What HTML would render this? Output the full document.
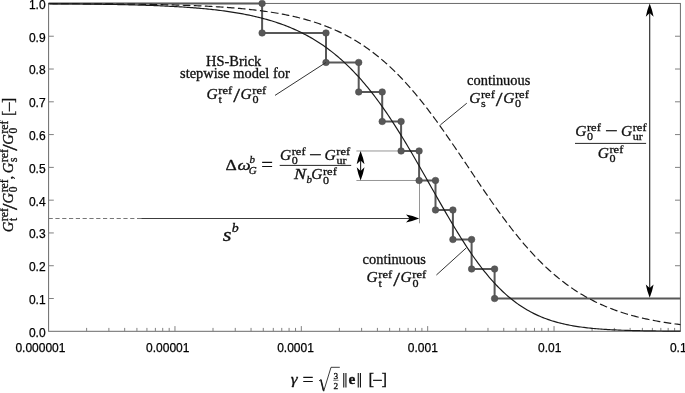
<!DOCTYPE html>
<html><head><meta charset="utf-8"><title>HS-Brick stiffness degradation</title>
<style>html,body{margin:0;padding:0;background:#fff}svg{display:block}.sf{font-family:"Liberation Serif",serif}.ss{font-family:"Liberation Sans",sans-serif}</style></head><body>
<svg width="685" height="393" viewBox="0 0 685 393">
<rect width="685" height="393" fill="#fff"/>
<g stroke="#6a6a6a" stroke-width="1" fill="none">
<rect x="48.6" y="3.45" width="631.80" height="327.85"/>
<path d="M48.6 298.51h5.2M680.4 298.51h-5.4M48.6 265.73h5.2M680.4 265.73h-5.4M48.6 232.94h5.2M680.4 232.94h-5.4M48.6 200.16h5.2M680.4 200.16h-5.4M48.6 167.38h5.2M680.4 167.38h-5.4M48.6 134.59h5.2M680.4 134.59h-5.4M48.6 101.81h5.2M680.4 101.81h-5.4M48.6 69.02h5.2M680.4 69.02h-5.4M48.6 36.23h5.2M680.4 36.23h-5.4M86.64 331.3v-3.4M108.89 331.3v-3.4M124.68 331.3v-3.4M136.92 331.3v-3.4M146.93 331.3v-3.4M155.39 331.3v-3.4M162.71 331.3v-3.4M169.18 331.3v-3.4M174.96 331.3v-5.2M213.00 331.3v-3.4M235.25 331.3v-3.4M251.04 331.3v-3.4M263.28 331.3v-3.4M273.29 331.3v-3.4M281.75 331.3v-3.4M289.07 331.3v-3.4M295.54 331.3v-3.4M301.32 331.3v-5.2M339.36 331.3v-3.4M361.61 331.3v-3.4M377.40 331.3v-3.4M389.64 331.3v-3.4M399.65 331.3v-3.4M408.11 331.3v-3.4M415.43 331.3v-3.4M421.90 331.3v-3.4M427.68 331.3v-5.2M465.72 331.3v-3.4M487.97 331.3v-3.4M503.76 331.3v-3.4M516.00 331.3v-3.4M526.01 331.3v-3.4M534.47 331.3v-3.4M541.79 331.3v-3.4M548.26 331.3v-3.4M554.04 331.3v-5.2M592.08 331.3v-3.4M614.33 331.3v-3.4M630.12 331.3v-3.4M642.36 331.3v-3.4M652.37 331.3v-3.4M660.83 331.3v-3.4M668.15 331.3v-3.4M674.62 331.3v-3.4" stroke="#808080"/>
</g>
<g class="ss" font-size="12" fill="#000" stroke="#000" stroke-width="0.25">
<text x="45.6" y="336.70" text-anchor="end">0.0</text>
<text x="45.6" y="303.91" text-anchor="end">0.1</text>
<text x="45.6" y="271.13" text-anchor="end">0.2</text>
<text x="45.6" y="238.34" text-anchor="end">0.3</text>
<text x="45.6" y="205.56" text-anchor="end">0.4</text>
<text x="45.6" y="172.78" text-anchor="end">0.5</text>
<text x="45.6" y="139.99" text-anchor="end">0.6</text>
<text x="45.6" y="107.21" text-anchor="end">0.7</text>
<text x="45.6" y="74.42" text-anchor="end">0.8</text>
<text x="45.6" y="41.63" text-anchor="end">0.9</text>
<text x="45.6" y="8.85" text-anchor="end">1.0</text>
<text x="15.4" y="352.3">0.000001</text>
<text x="146.1" y="352.3">0.00001</text>
<text x="277.2" y="352.3">0.0001</text>
<text x="407.8" y="352.3">0.001</text>
<text x="538.0" y="352.3">0.01</text>
<text x="669.9" y="352.3">0.1</text>
</g>
<g stroke="#8a8a8a" stroke-width="0.9" fill="none">
<path d="M356.4 150.98H401.1M356.4 180.49H419.1M419.5 180.49V223.3"/>
</g>
<path d="M48.6 218.5H141.5" stroke="#777" stroke-width="1" stroke-dasharray="4.2 2.6" fill="none"/>
<path d="M141.2 218.5H412" stroke="#3c3c3c" stroke-width="1.2" fill="none"/>
<path d="M48.6 3.45H262.1V32.96H326.0V62.46H358.7V91.97H382.2V121.48H401.1V150.98H419.1V180.49H435.5V210.00H452.9V239.50H471.6V269.01H494.6V298.52H680.4" stroke="#585858" stroke-width="2" fill="none" stroke-linejoin="round"/>
<g fill="#585858">
<circle cx="262.1" cy="3.45" r="3.3" stroke="#484848" stroke-width="0.5"/>
<circle cx="262.1" cy="32.96" r="3.3" stroke="#484848" stroke-width="0.5"/>
<circle cx="326.0" cy="32.96" r="3.3" stroke="#484848" stroke-width="0.5"/>
<circle cx="326.0" cy="62.46" r="3.3" stroke="#484848" stroke-width="0.5"/>
<circle cx="358.7" cy="62.46" r="3.3" stroke="#484848" stroke-width="0.5"/>
<circle cx="358.7" cy="91.97" r="3.3" stroke="#484848" stroke-width="0.5"/>
<circle cx="382.2" cy="91.97" r="3.3" stroke="#484848" stroke-width="0.5"/>
<circle cx="382.2" cy="121.48" r="3.3" stroke="#484848" stroke-width="0.5"/>
<circle cx="401.1" cy="121.48" r="3.3" stroke="#484848" stroke-width="0.5"/>
<circle cx="401.1" cy="150.98" r="3.3" stroke="#484848" stroke-width="0.5"/>
<circle cx="419.1" cy="150.98" r="3.3" stroke="#484848" stroke-width="0.5"/>
<circle cx="419.1" cy="180.49" r="3.3" stroke="#484848" stroke-width="0.5"/>
<circle cx="435.5" cy="180.49" r="3.3" stroke="#484848" stroke-width="0.5"/>
<circle cx="435.5" cy="210.00" r="3.3" stroke="#484848" stroke-width="0.5"/>
<circle cx="452.9" cy="210.00" r="3.3" stroke="#484848" stroke-width="0.5"/>
<circle cx="452.9" cy="239.50" r="3.3" stroke="#484848" stroke-width="0.5"/>
<circle cx="471.6" cy="239.50" r="3.3" stroke="#484848" stroke-width="0.5"/>
<circle cx="471.6" cy="269.01" r="3.3" stroke="#484848" stroke-width="0.5"/>
<circle cx="494.6" cy="269.01" r="3.3" stroke="#484848" stroke-width="0.5"/>
<circle cx="494.6" cy="298.52" r="3.3" stroke="#484848" stroke-width="0.5"/>
</g>
<path d="M48.60 3.61L50.18 3.61L51.76 3.62L53.34 3.62L54.92 3.63L56.50 3.63L58.08 3.64L59.66 3.64L61.24 3.65L62.82 3.65L64.39 3.66L65.97 3.66L67.55 3.67L69.13 3.68L70.71 3.68L72.29 3.69L73.87 3.70L75.45 3.70L77.03 3.71L78.61 3.72L80.19 3.73L81.77 3.74L83.35 3.74L84.93 3.75L86.51 3.76L88.09 3.77L89.67 3.78L91.25 3.79L92.83 3.80L94.41 3.81L95.98 3.82L97.56 3.83L99.14 3.84L100.72 3.85L102.30 3.86L103.88 3.88L105.46 3.89L107.04 3.90L108.62 3.92L110.20 3.93L111.78 3.94L113.36 3.96L114.94 3.97L116.52 3.99L118.10 4.00L119.68 4.02L121.26 4.04L122.84 4.05L124.42 4.07L126.00 4.09L127.57 4.11L129.15 4.13L130.73 4.15L132.31 4.17L133.89 4.19L135.47 4.21L137.05 4.23L138.63 4.25L140.21 4.28L141.79 4.30L143.37 4.33L144.95 4.35L146.53 4.38L148.11 4.40L149.69 4.43L151.27 4.46L152.85 4.49L154.43 4.52L156.01 4.55L157.59 4.58L159.16 4.62L160.74 4.65L162.32 4.69L163.90 4.72L165.48 4.76L167.06 4.80L168.64 4.84L170.22 4.88L171.80 4.92L173.38 4.96L174.96 5.00L176.54 5.05L178.12 5.10L179.70 5.14L181.28 5.19L182.86 5.24L184.44 5.30L186.02 5.35L187.60 5.40L189.18 5.46L190.75 5.52L192.33 5.58L193.91 5.64L195.49 5.70L197.07 5.77L198.65 5.84L200.23 5.91L201.81 5.98L203.39 6.05L204.97 6.13L206.55 6.20L208.13 6.28L209.71 6.36L211.29 6.45L212.87 6.54L214.45 6.62L216.03 6.72L217.61 6.81L219.19 6.91L220.77 7.01L222.34 7.11L223.92 7.22L225.50 7.33L227.08 7.44L228.66 7.55L230.24 7.67L231.82 7.79L233.40 7.92L234.98 8.05L236.56 8.18L238.14 8.31L239.72 8.45L241.30 8.60L242.88 8.75L244.46 8.90L246.04 9.05L247.62 9.21L249.20 9.38L250.78 9.55L252.36 9.72L253.94 9.90L255.51 10.09L257.09 10.28L258.67 10.47L260.25 10.67L261.83 10.88L263.41 11.09L264.99 11.31L266.57 11.53L268.15 11.76L269.73 12.00L271.31 12.24L272.89 12.49L274.47 12.75L276.05 13.01L277.63 13.28L279.21 13.56L280.79 13.85L282.37 14.14L283.95 14.44L285.53 14.75L287.10 15.07L288.68 15.40L290.26 15.73L291.84 16.08L293.42 16.43L295.00 16.80L296.58 17.17L298.16 17.55L299.74 17.95L301.32 18.35L302.90 18.77L304.48 19.19L306.06 19.63L307.64 20.08L309.22 20.54L310.80 21.01L312.38 21.50L313.96 21.99L315.54 22.50L317.12 23.03L318.69 23.56L320.27 24.11L321.85 24.68L323.43 25.26L325.01 25.85L326.59 26.46L328.17 27.08L329.75 27.72L331.33 28.37L332.91 29.04L334.49 29.73L336.07 30.44L337.65 31.16L339.23 31.90L340.81 32.65L342.39 33.43L343.97 34.22L345.55 35.03L347.13 35.86L348.70 36.72L350.28 37.59L351.86 38.48L353.44 39.39L355.02 40.32L356.60 41.27L358.18 42.24L359.76 43.24L361.34 44.26L362.92 45.30L364.50 46.36L366.08 47.44L367.66 48.55L369.24 49.68L370.82 50.84L372.40 52.02L373.98 53.22L375.56 54.45L377.14 55.70L378.72 56.97L380.30 58.28L381.87 59.60L383.45 60.95L385.03 62.33L386.61 63.74L388.19 65.16L389.77 66.62L391.35 68.10L392.93 69.61L394.51 71.14L396.09 72.70L397.67 74.28L399.25 75.90L400.83 77.53L402.41 79.20L403.99 80.89L405.57 82.60L407.15 84.34L408.73 86.11L410.31 87.90L411.89 89.72L413.46 91.56L415.04 93.43L416.62 95.32L418.20 97.23L419.78 99.17L421.36 101.13L422.94 103.12L424.52 105.13L426.10 107.16L427.68 109.21L429.26 111.28L430.84 113.37L432.42 115.49L434.00 117.62L435.58 119.77L437.16 121.94L438.74 124.13L440.32 126.33L441.90 128.55L443.48 130.78L445.05 133.03L446.63 135.29L448.21 137.57L449.79 139.85L451.37 142.15L452.95 144.46L454.53 146.78L456.11 149.10L457.69 151.44L459.27 153.78L460.85 156.12L462.43 158.47L464.01 160.83L465.59 163.18L467.17 165.54L468.75 167.90L470.33 170.26L471.91 172.62L473.49 174.97L475.06 177.32L476.64 179.67L478.22 182.02L479.80 184.35L481.38 186.68L482.96 189.00L484.54 191.32L486.12 193.62L487.70 195.91L489.28 198.20L490.86 200.47L492.44 202.72L494.02 204.96L495.60 207.19L497.18 209.40L498.76 211.60L500.34 213.78L501.92 215.94L503.50 218.08L505.08 220.21L506.66 222.31L508.23 224.39L509.81 226.46L511.39 228.50L512.97 230.52L514.55 232.52L516.13 234.49L517.71 236.44L519.29 238.37L520.87 240.28L522.45 242.16L524.03 244.01L525.61 245.84L527.19 247.65L528.77 249.43L530.35 251.19L531.93 252.92L533.51 254.62L535.09 256.30L536.67 257.95L538.25 259.57L539.82 261.17L541.40 262.75L542.98 264.30L544.56 265.82L546.14 267.31L547.72 268.78L549.30 270.22L550.88 271.64L552.46 273.03L554.04 274.40L555.62 275.74L557.20 277.06L558.78 278.35L560.36 279.61L561.94 280.85L563.52 282.07L565.10 283.26L566.68 284.43L568.26 285.57L569.83 286.70L571.41 287.79L572.99 288.87L574.57 289.92L576.15 290.95L577.73 291.96L579.31 292.94L580.89 293.91L582.47 294.85L584.05 295.77L585.63 296.67L587.21 297.55L588.79 298.42L590.37 299.26L591.95 300.08L593.53 300.88L595.11 301.67L596.69 302.44L598.27 303.18L599.85 303.91L601.42 304.63L603.00 305.33L604.58 306.01L606.16 306.67L607.74 307.32L609.32 307.95L610.90 308.57L612.48 309.17L614.06 309.75L615.64 310.33L617.22 310.88L618.80 311.43L620.38 311.96L621.96 312.48L623.54 312.98L625.12 313.47L626.70 313.95L628.28 314.42L629.86 314.87L631.44 315.32L633.01 315.75L634.59 316.17L636.17 316.58L637.75 316.98L639.33 317.37L640.91 317.75L642.49 318.12L644.07 318.47L645.65 318.82L647.23 319.17L648.81 319.50L650.39 319.82L651.97 320.14L653.55 320.44L655.13 320.74L656.71 321.03L658.29 321.31L659.87 321.59L661.45 321.86L663.03 322.12L664.60 322.37L666.18 322.62L667.76 322.86L669.34 323.09L670.92 323.32L672.50 323.54L674.08 323.75L675.66 323.96L677.24 324.17L678.82 324.36L680.40 324.56" stroke="#1a1a1a" stroke-width="1.18" stroke-dasharray="7.7 3.36" stroke-dashoffset="9.66" fill="none"/>
<path d="M48.60 3.76L50.18 3.77L51.76 3.78L53.34 3.79L54.92 3.80L56.50 3.81L58.08 3.82L59.66 3.83L61.24 3.84L62.82 3.85L64.39 3.87L65.97 3.88L67.55 3.89L69.13 3.90L70.71 3.92L72.29 3.93L73.87 3.94L75.45 3.96L77.03 3.97L78.61 3.99L80.19 4.00L81.77 4.02L83.35 4.04L84.93 4.05L86.51 4.07L88.09 4.09L89.67 4.11L91.25 4.13L92.83 4.15L94.41 4.17L95.98 4.19L97.56 4.21L99.14 4.23L100.72 4.26L102.30 4.28L103.88 4.30L105.46 4.33L107.04 4.35L108.62 4.38L110.20 4.41L111.78 4.44L113.36 4.46L114.94 4.49L116.52 4.52L118.10 4.56L119.68 4.59L121.26 4.62L122.84 4.65L124.42 4.69L126.00 4.73L127.57 4.76L129.15 4.80L130.73 4.84L132.31 4.88L133.89 4.92L135.47 4.97L137.05 5.01L138.63 5.05L140.21 5.10L141.79 5.15L143.37 5.20L144.95 5.25L146.53 5.30L148.11 5.36L149.69 5.41L151.27 5.47L152.85 5.53L154.43 5.59L156.01 5.65L157.59 5.71L159.16 5.78L160.74 5.85L162.32 5.92L163.90 5.99L165.48 6.06L167.06 6.14L168.64 6.22L170.22 6.30L171.80 6.38L173.38 6.46L174.96 6.55L176.54 6.64L178.12 6.73L179.70 6.83L181.28 6.93L182.86 7.03L184.44 7.13L186.02 7.24L187.60 7.35L189.18 7.46L190.75 7.57L192.33 7.69L193.91 7.82L195.49 7.94L197.07 8.07L198.65 8.21L200.23 8.34L201.81 8.48L203.39 8.63L204.97 8.78L206.55 8.93L208.13 9.09L209.71 9.25L211.29 9.42L212.87 9.59L214.45 9.77L216.03 9.95L217.61 10.14L219.19 10.33L220.77 10.53L222.34 10.73L223.92 10.94L225.50 11.15L227.08 11.38L228.66 11.60L230.24 11.84L231.82 12.08L233.40 12.32L234.98 12.58L236.56 12.84L238.14 13.11L239.72 13.38L241.30 13.66L242.88 13.95L244.46 14.25L246.04 14.56L247.62 14.88L249.20 15.20L250.78 15.54L252.36 15.88L253.94 16.23L255.51 16.59L257.09 16.96L258.67 17.35L260.25 17.74L261.83 18.14L263.41 18.56L264.99 18.98L266.57 19.42L268.15 19.87L269.73 20.33L271.31 20.80L272.89 21.29L274.47 21.79L276.05 22.30L277.63 22.82L279.21 23.36L280.79 23.92L282.37 24.49L283.95 25.07L285.53 25.67L287.10 26.28L288.68 26.91L290.26 27.56L291.84 28.22L293.42 28.90L295.00 29.60L296.58 30.32L298.16 31.05L299.74 31.81L301.32 32.58L302.90 33.37L304.48 34.18L306.06 35.01L307.64 35.86L309.22 36.74L310.80 37.63L312.38 38.55L313.96 39.49L315.54 40.45L317.12 41.43L318.69 42.44L320.27 43.47L321.85 44.53L323.43 45.61L325.01 46.72L326.59 47.85L328.17 49.01L329.75 50.19L331.33 51.40L332.91 52.64L334.49 53.91L336.07 55.20L337.65 56.52L339.23 57.88L340.81 59.26L342.39 60.67L343.97 62.11L345.55 63.57L347.13 65.07L348.70 66.61L350.28 68.17L351.86 69.76L353.44 71.38L355.02 73.04L356.60 74.73L358.18 76.45L359.76 78.20L361.34 79.98L362.92 81.80L364.50 83.65L366.08 85.53L367.66 87.45L369.24 89.39L370.82 91.37L372.40 93.39L373.98 95.43L375.56 97.51L377.14 99.62L378.72 101.76L380.30 103.93L381.87 106.14L383.45 108.37L385.03 110.64L386.61 112.93L388.19 115.26L389.77 117.62L391.35 120.00L392.93 122.41L394.51 124.85L396.09 127.32L397.67 129.81L399.25 132.33L400.83 134.88L402.41 137.44L403.99 140.03L405.57 142.64L407.15 145.27L408.73 147.93L410.31 150.60L411.89 153.29L413.46 155.99L415.04 158.71L416.62 161.44L418.20 164.19L419.78 166.95L421.36 169.71L422.94 172.49L424.52 175.27L426.10 178.06L427.68 180.85L429.26 183.65L430.84 186.44L432.42 189.24L434.00 192.03L435.58 194.82L437.16 197.60L438.74 200.38L440.32 203.15L441.90 205.91L443.48 208.66L445.05 211.39L446.63 214.12L448.21 216.82L449.79 219.51L451.37 222.17L452.95 224.82L454.53 227.45L456.11 230.05L457.69 232.62L459.27 235.18L460.85 237.70L462.43 240.19L464.01 242.66L465.59 245.09L467.17 247.49L468.75 249.86L470.33 252.20L471.91 254.49L473.49 256.76L475.06 258.98L476.64 261.17L478.22 263.32L479.80 265.44L481.38 267.51L482.96 269.54L484.54 271.53L486.12 273.48L487.70 275.39L489.28 277.26L490.86 279.09L492.44 280.87L494.02 282.62L495.60 284.32L497.18 285.98L498.76 287.60L500.34 289.17L501.92 290.71L503.50 292.20L505.08 293.66L506.66 295.07L508.23 296.44L509.81 297.77L511.39 299.07L512.97 300.32L514.55 301.54L516.13 302.71L517.71 303.86L519.29 304.96L520.87 306.03L522.45 307.06L524.03 308.06L525.61 309.03L527.19 309.96L528.77 310.86L530.35 311.72L531.93 312.56L533.51 313.37L535.09 314.14L536.67 314.89L538.25 315.61L539.82 316.30L541.40 316.97L542.98 317.61L544.56 318.22L546.14 318.81L547.72 319.38L549.30 319.92L550.88 320.44L552.46 320.94L554.04 321.42L555.62 321.88L557.20 322.33L558.78 322.75L560.36 323.15L561.94 323.54L563.52 323.91L565.10 324.26L566.68 324.60L568.26 324.92L569.83 325.23L571.41 325.53L572.99 325.81L574.57 326.08L576.15 326.33L577.73 326.58L579.31 326.81L580.89 327.03L582.47 327.25L584.05 327.45L585.63 327.64L587.21 327.83L588.79 328.00L590.37 328.17L591.95 328.33L593.53 328.48L595.11 328.62L596.69 328.76L598.27 328.89L599.85 329.01L601.42 329.13L603.00 329.24L604.58 329.35L606.16 329.45L607.74 329.55L609.32 329.64L610.90 329.72L612.48 329.81L614.06 329.88L615.64 329.96L617.22 330.03L618.80 330.10L620.38 330.16L621.96 330.22L623.54 330.28L625.12 330.33L626.70 330.38L628.28 330.43L629.86 330.48L631.44 330.52L633.01 330.56L634.59 330.60L636.17 330.64L637.75 330.67L639.33 330.71L640.91 330.74L642.49 330.77L644.07 330.80L645.65 330.83L647.23 330.85L648.81 330.88L650.39 330.90L651.97 330.92L653.55 330.94L655.13 330.96L656.71 330.98L658.29 331.00L659.87 331.01L661.45 331.03L663.03 331.04L664.60 331.06L666.18 331.07L667.76 331.08L669.34 331.09L670.92 331.11L672.50 331.12L674.08 331.13L675.66 331.14L677.24 331.14L678.82 331.15L680.40 331.16" stroke="#1a1a1a" stroke-width="1.18" fill="none"/>
<g stroke="#333" stroke-width="1" fill="none">
<path d="M275 95.4L326.0 62.46M466.8 103.2L440.4 124.9M436.4 275L466.6 247.6"/>
</g>
<g stroke="#2a2a2a" stroke-width="1.15" fill="none">
<path d="M649.7 9.45V292.52M360.6 156.98V174.49"/>
</g>
<g fill="#000">
<path d="M649.70 3.45Q652.35 10.05 653.60 16.65L649.70 13.05L645.80 16.65Q647.05 10.05 649.70 3.45ZM649.70 297.72Q647.05 291.12 645.80 284.52L649.70 288.12L653.60 284.52Q652.35 291.12 649.70 297.72ZM360.60 150.98Q363.25 157.58 364.50 164.18L360.60 160.58L356.70 164.18Q357.95 157.58 360.60 150.98ZM360.60 180.49Q357.95 173.89 356.70 167.29L360.60 170.89L364.50 167.29Q363.25 173.89 360.60 180.49ZM419.20 218.50Q412.60 221.15 406.00 222.40L409.60 218.50L406.00 214.60Q412.60 215.85 419.20 218.50Z"/>
</g>
<g class="sf" fill="#111" stroke="#111" stroke-width="0.3">
<text transform="translate(233.70 65.60) scale(1.06 1.0)" font-size="13.6" text-anchor="middle">HS-Brick</text>
<text transform="translate(234.90 78.00) scale(1.06 1.0)" font-size="13.6" text-anchor="middle">stepwise model for</text>
<text transform="translate(206.60 99.00) scale(1.06 1.0)" font-size="14.6" font-style="italic">G</text><text transform="translate(218.30 94.20) scale(1.14 1.0)" font-size="11">ref</text><text transform="translate(218.40 103.10) scale(1.1 1.0)" font-size="11">t</text><text transform="translate(233.20 102.40) scale(1.25 1.0)" font-size="19.5">/</text><text transform="translate(240.60 99.00) scale(1.06 1.0)" font-size="14.6" font-style="italic">G</text><text transform="translate(252.30 94.20) scale(1.14 1.0)" font-size="11">ref</text><text transform="translate(252.40 103.10) scale(1.1 1.0)" font-size="11">0</text>
<text transform="translate(498.70 84.50) scale(1.06 1.0)" font-size="13.6" text-anchor="middle">continuous</text>
<text transform="translate(469.20 102.80) scale(1.06 1.0)" font-size="14.6" font-style="italic">G</text><text transform="translate(480.90 98.00) scale(1.14 1.0)" font-size="11">ref</text><text transform="translate(481.00 106.90) scale(1.1 1.0)" font-size="11">s</text><text transform="translate(495.80 106.20) scale(1.25 1.0)" font-size="19.5">/</text><text transform="translate(503.20 102.80) scale(1.06 1.0)" font-size="14.6" font-style="italic">G</text><text transform="translate(514.90 98.00) scale(1.14 1.0)" font-size="11">ref</text><text transform="translate(515.00 106.90) scale(1.1 1.0)" font-size="11">0</text>
<text transform="translate(394.20 264.00) scale(1.06 1.0)" font-size="13.6" text-anchor="middle">continuous</text>
<text transform="translate(366.60 282.40) scale(1.06 1.0)" font-size="14.6" font-style="italic">G</text><text transform="translate(378.30 277.60) scale(1.14 1.0)" font-size="11">ref</text><text transform="translate(378.40 286.50) scale(1.1 1.0)" font-size="11">t</text><text transform="translate(393.20 285.80) scale(1.25 1.0)" font-size="19.5">/</text><text transform="translate(400.60 282.40) scale(1.06 1.0)" font-size="14.6" font-style="italic">G</text><text transform="translate(412.30 277.60) scale(1.14 1.0)" font-size="11">ref</text><text transform="translate(412.40 286.50) scale(1.1 1.0)" font-size="11">0</text>
<text transform="translate(222.80 240.50) scale(1.22 1.0)" font-size="18.4" font-style="italic">s</text>
<text transform="translate(231.80 231.70) scale(1.06 1.0)" font-size="13.2" font-style="italic">b</text>
<text transform="translate(225.60 169.60) scale(1.2 1.0)" font-size="14.6">Δ</text>
<text transform="translate(237.60 169.60) scale(1.28 1.0)" font-size="14.6" font-style="italic">ω</text>
<text transform="translate(249.60 163.40) scale(1.06 1.0)" font-size="10.4" font-style="italic">b</text>
<text transform="translate(248.80 173.60) scale(1.06 1.0)" font-size="10.4" font-style="italic">G</text>
<text transform="translate(261.20 170.60) scale(1.12 1.0)" font-size="18.6">=</text>
<text transform="translate(280.00 159.50) scale(1.06 1.0)" font-size="14.6" font-style="italic">G</text><text transform="translate(291.70 154.70) scale(1.14 1.0)" font-size="11">ref</text><text transform="translate(291.80 163.60) scale(1.1 1.0)" font-size="11">0</text>
<text transform="translate(309.00 160.60) scale(1.22 1.0)" font-size="18.6">−</text>
<text transform="translate(324.60 159.50) scale(1.06 1.0)" font-size="14.6" font-style="italic">G</text><text transform="translate(336.30 154.70) scale(1.14 1.0)" font-size="11">ref</text><text transform="translate(336.40 163.60) scale(1.1 1.0)" font-size="11">ur</text>
<path d="M279.7 165.4H351.2" stroke="#1a1a1a" stroke-width="0.95"/>
<text transform="translate(294.00 179.40) scale(1.25 1.0)" font-size="14.6" font-style="italic">N</text>
<text transform="translate(306.60 182.60) scale(1.06 1.0)" font-size="10.4" font-style="italic">b</text>
<text transform="translate(311.20 179.40) scale(1.06 1.0)" font-size="14.6" font-style="italic">G</text><text transform="translate(322.90 174.60) scale(1.14 1.0)" font-size="11">ref</text><text transform="translate(323.00 183.50) scale(1.1 1.0)" font-size="11">0</text>
<text transform="translate(575.20 136.10) scale(1.06 1.0)" font-size="14.6" font-style="italic">G</text><text transform="translate(586.90 131.30) scale(1.14 1.0)" font-size="11">ref</text><text transform="translate(587.00 140.20) scale(1.1 1.0)" font-size="11">0</text>
<text transform="translate(605.00 137.20) scale(1.22 1.0)" font-size="18.6">−</text>
<text transform="translate(621.00 136.10) scale(1.06 1.0)" font-size="14.6" font-style="italic">G</text><text transform="translate(632.70 131.30) scale(1.14 1.0)" font-size="11">ref</text><text transform="translate(632.80 140.20) scale(1.1 1.0)" font-size="11">ur</text>
<path d="M575 143.4H646.1" stroke="#1a1a1a" stroke-width="0.95"/>
<text transform="translate(597.70 158.10) scale(1.06 1.0)" font-size="14.6" font-style="italic">G</text><text transform="translate(609.40 153.30) scale(1.14 1.0)" font-size="11">ref</text><text transform="translate(609.50 162.20) scale(1.1 1.0)" font-size="11">0</text>
<text transform="translate(290.80 383.60) scale(1.15 1.0)" font-size="15.2" font-style="italic">γ</text>
<text transform="translate(302.60 385.80) scale(1.05 1.0)" font-size="18.6">=</text>
<path d="M319.0 380.9L320.9 379.6L323.7 391.2L331.0 367.3H339.8" stroke="#1a1a1a" stroke-width="0.85" fill="none" stroke-linejoin="miter"/>
<path d="M320.9 379.8L323.5 390.6" stroke="#1a1a1a" stroke-width="1.5" fill="none"/>
<text transform="translate(335.80 379.00) scale(1.06 1.0)" font-size="8.8" text-anchor="middle">3</text>
<path d="M333.2 380.3h5.3" stroke="#1a1a1a" stroke-width="0.6"/>
<text transform="translate(335.80 388.50) scale(1.06 1.0)" font-size="8.8" text-anchor="middle">2</text>
<text transform="translate(341.6 384.2) scale(1.02 1)" font-size="13.2" font-family="DejaVu Sans, Liberation Serif, serif" stroke="none" fill="#111">‖</text>
<text transform="translate(348.60 383.80) scale(1.06 1.0)" font-size="14.6" font-weight="bold">e</text>
<text transform="translate(356.1 384.2) scale(1.02 1)" font-size="13.2" font-family="DejaVu Sans, Liberation Serif, serif" stroke="none" fill="#111">‖</text>
<text transform="translate(368.60 384.60) scale(1.06 1.0)" font-size="15.8">[</text><text transform="translate(372.20 385.60) scale(1.06 1.0)" font-size="17.2">−</text><text transform="translate(381.40 384.60) scale(1.06 1.0)" font-size="15.8">]</text>
<g transform="translate(12.9 231.8) rotate(-90) scale(0.9434 1.06)">
<text transform="translate(-0.40 0.00) scale(1.06 1.0)" font-size="14.6" font-style="italic">G</text><text transform="translate(11.30 -4.80) scale(1.14 1.0)" font-size="11">ref</text><text transform="translate(11.40 4.10) scale(1.1 1.0)" font-size="11">t</text><text transform="translate(23.14 3.40) scale(1.25 1.0)" font-size="19.5">/</text><text transform="translate(30.13 0.00) scale(1.06 1.0)" font-size="14.6" font-style="italic">G</text><text transform="translate(41.83 -4.80) scale(1.14 1.0)" font-size="11">ref</text><text transform="translate(41.93 4.10) scale(1.1 1.0)" font-size="11">0</text>
<text transform="translate(55.54 0.00) scale(1.06 1.0)" font-size="14.6">,</text>
<text transform="translate(62.14 0.00) scale(1.06 1.0)" font-size="14.6" font-style="italic">G</text><text transform="translate(73.84 -4.80) scale(1.14 1.0)" font-size="11">ref</text><text transform="translate(73.94 4.10) scale(1.1 1.0)" font-size="11">s</text><text transform="translate(85.79 3.40) scale(1.25 1.0)" font-size="19.5">/</text><text transform="translate(92.35 0.00) scale(1.06 1.0)" font-size="14.6" font-style="italic">G</text><text transform="translate(104.05 -4.80) scale(1.14 1.0)" font-size="11">ref</text><text transform="translate(104.15 4.10) scale(1.1 1.0)" font-size="11">0</text>
<text transform="translate(122.64 1.20) scale(1.06 1.0)" font-size="15.6">[</text><text transform="translate(126.78 1.80) scale(1.22 1.0)" font-size="16.4">−</text><text transform="translate(136.42 1.20) scale(1.06 1.0)" font-size="15.6">]</text>
</g>
</g>
</svg></body></html>
